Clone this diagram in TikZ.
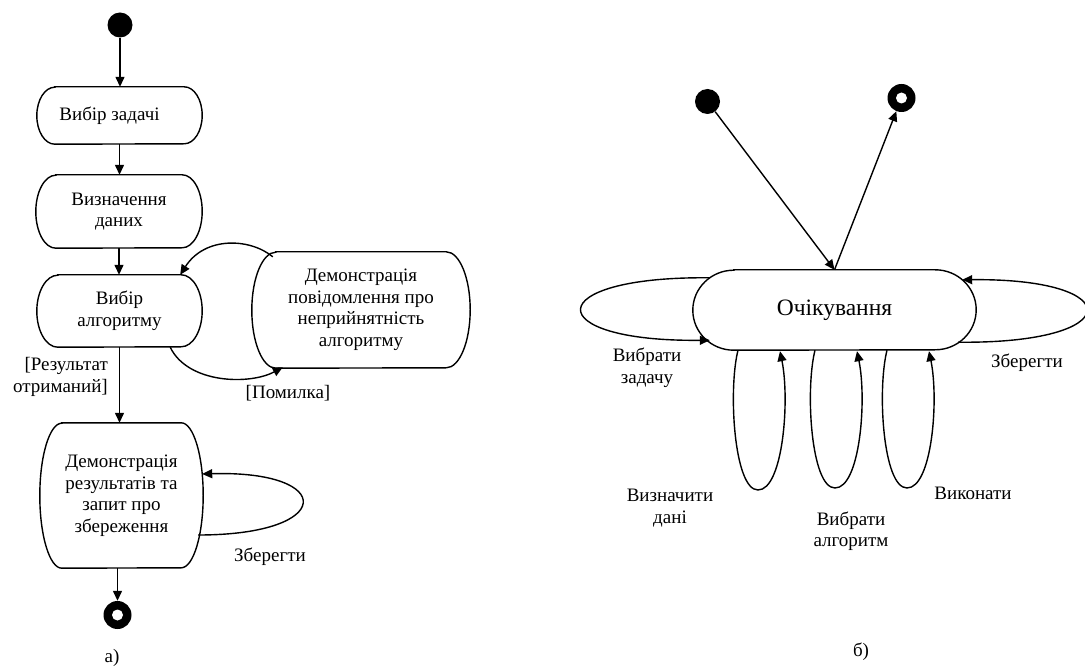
\documentclass[tikz,border=0pt]{standalone}
\usepackage{fontspec}
\setmainfont{Liberation Serif}
\usetikzlibrary{arrows.meta,calc}
\newcommand\stateshape[3]{%
  \draw[ln] ([xshift=#2]#1.north west) -- ([xshift=-#2]#1.north east)
    arc[start angle=90,end angle=-90,x radius=#2,y radius=#3]
    -- ([xshift=#2]#1.south west)
    arc[start angle=270,end angle=90,x radius=#2,y radius=#3] -- cycle;}
\begin{document}
\begin{tikzpicture}[x=1pt,y=-1pt,
  ln/.style={line width=1.4pt},
  arr/.style={line width=1.4pt,-{Triangle[length=10pt,width=9pt]}},
  st/.style={inner sep=0pt,align=center,font=\fontsize{19}{21.5}\selectfont},
  lbl/.style={inner sep=0pt,align=center,font=\fontsize{19}{21.5}\selectfont},
  initst/.style={circle,fill=black,inner sep=0pt,minimum size=25pt},
  finst/.style={circle,fill=black,inner sep=0pt,minimum size=28pt,
    path picture={\fill[white] (path picture bounding box.center) circle[radius=5.5pt];}}]
\useasboundingbox (0,0) rectangle (1085,668);
% ---------- a) ----------
\node[initst] (i1) at (120,25) {};
\node[st,minimum width=165pt,minimum height=57pt] (b1) at (119.5,115.5) {\hspace*{-20pt}Вибір задачі};
\stateshape{b1}{18pt}{28.5pt}
\node[st,minimum width=166pt,minimum height=73pt] (b2) at (119,211.5) {Визначення\\даних};
\stateshape{b2}{20pt}{36.5pt}
\node[st,minimum width=165pt,minimum height=72pt] (b3) at (119.5,311) {Вибір\\алгоритму};
\stateshape{b3}{21pt}{36pt}
\node[st,minimum width=218pt,minimum height=116pt] (dem) at (361,310) {Демонстрація\\повідомлення про\\неприйнятність\\алгоритму};
\stateshape{dem}{24pt}{58pt}
\node[st,minimum width=163pt,minimum height=145pt] (b4) at (121.5,495.5) {Демонстрація\\результатів та\\запит про\\збереження};
\stateshape{b4}{22pt}{72.5pt}
\node[finst] (f1) at (117.5,615) {};

\draw[arr] (i1) -- (i1 |- b1.north);
\draw[arr] (b1.south) -- (b1.south |- b2.north);
\draw[arr] (b2.south) -- (b2.south |- b3.north);
\draw[arr] (b3.south) -- (b3.south |- b4.north);
\node[lbl,align=right,anchor=east] (lres) at (108,377) {[Результат\\отриманий]};
\draw[arr] ($(dem.north west)+(21,5)$) .. controls (250,238) and (205,236) .. ($(b3.north east)+(-22,0)$);
\draw[arr] ($(b3.south east)+(-32,0)$) .. controls (188,384) and (250,385) .. ($(dem.south west)+(31,-1)$);
\node[lbl] (lerr) at (288,393) {[Помилка]};
\draw[arr] ($(b4.east)+(-5,39.5)$) .. controls (336,535) and (336,470) .. ($(b4.east)+(-1,-21.5)$);
\node[lbl] (lsave1) at (270,557) {Зберегти};
\draw[arr] (b4.south -| f1) -- (f1);
\node[lbl] (capa) at (112,658) {а)};
% ---------- б) ----------
\node[initst] (i2) at (707.5,101.5) {};
\node[finst] (f2) at (901.5,98) {};
\node[st,font=\fontsize{23.5}{26}\selectfont,minimum width=283pt,minimum height=80pt] (w) at (834.5,310) {Очікування};
\stateshape{w}{41pt}{40pt}
\draw[arr] (i2) -- (w.north);
\draw[arr] (w.north) -- (f2);
\draw[arr] ($(w.north west)+(17,8)$) .. controls (539,276) and (539,342) .. ($(w.south west)+(17,-10)$);
\node[lbl] (lz) at (647,368) {Вибрати\\задачу};
\draw[arr] ($(w.south east)+(-18,-8)$) .. controls (1128,344) and (1128,278) .. ($(w.north east)+(-14,10)$);
\node[lbl] (lsave2) at (1027,363) {Зберегти};
\draw[arr] ($(w.south)+(-96.5,0)$) .. controls (728,390) and (734,490) .. (758,490)
   .. controls (783,490) and (790,400) .. ($(w.south)+(-54.5,1)$);
\draw[arr] ($(w.south)+(-19.5,0)$) .. controls (805,390) and (811,488) .. (835,488)
   .. controls (860,488) and (867,400) .. ($(w.south)+(22.5,1)$);
\draw[arr] ($(w.south)+(52.5,0)$) .. controls (877,390) and (883,488) .. (907,488)
   .. controls (932,488) and (939,400) .. ($(w.south)+(94.5,1)$);
\node[lbl] (ld) at (670,508) {Визначити\\дані};
\node[lbl] (la) at (851,531) {Вибрати\\алгоритм};
\node[lbl] (lv) at (973,493) {Виконати};
\node[lbl] (capb) at (861,652) {б)};
\end{tikzpicture}
\end{document}
